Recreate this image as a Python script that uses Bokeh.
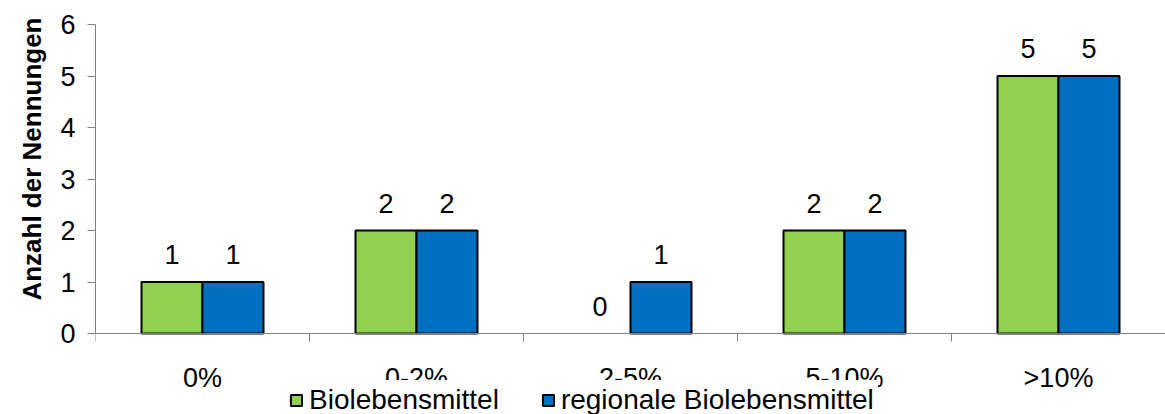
import math
from bokeh.plotting import figure
from bokeh.models import ColumnDataSource, FixedTicker, Legend, LegendItem, Title, Range1d
from bokeh.core.properties import value
from bokeh.embed import file_html
from bokeh.resources import INLINE

categories = ["0%", "0-2%", "2-5%", "5-10%", ">10%"]
bio = [1, 2, 0, 2, 5]
regional = [1, 2, 1, 2, 5]
series_names = ["Biolebensmittel", "regionale Biolebensmittel"]
y_ticks = [0, 1, 2, 3, 4, 5, 6]
y_title = "Anzahl der Nennungen"

GREEN = "#92D050"
BLUE = "#0070C0"
AXIS_GREY = "#808080"
FONT = "Liberation Sans"

n = len(categories)
bw = 0.285
off = 0.1425
centers = [i + 0.5 for i in range(n)]

W, H = 1165, 414
top_b, left_b = 24, 95
px_per_unit = 51.5
frame_h = H - top_b
y_lo = 6 - frame_h / px_per_unit  # extra room below zero for labels and legend

p = figure(width=W, height=H, output_backend="svg", toolbar_location=None,
           x_range=Range1d(0, n), y_range=Range1d(y_lo, 6),
           min_border_left=left_b, min_border_right=0, min_border_top=top_b, min_border_bottom=0)
p.outline_line_color = None
p.xgrid.visible = False
p.ygrid.visible = False
p.background_fill_color = "white"

src_g = ColumnDataSource(dict(x=[c - off for c in centers], top=bio,
                              la=[1 if v > 0 else 0 for v in bio],
                              lab=[str(v) for v in bio]))
src_b = ColumnDataSource(dict(x=[c + off for c in centers], top=regional,
                              la=[1 if v > 0 else 0 for v in regional],
                              lab=[str(v) for v in regional]))

rg = p.vbar(x="x", top="top", width=bw, bottom=0, source=src_g, fill_color=GREEN,
            line_color="black", line_width=2, line_alpha="la")
rb = p.vbar(x="x", top="top", width=bw, bottom=0, source=src_b, fill_color=BLUE,
            line_color="black", line_width=2, line_alpha="la")

for s in (src_g, src_b):
    p.text(x="x", y="top", text="lab", source=s, text_align="center", text_baseline="bottom",
           y_offset=-18, text_font=value(FONT), text_font_size="27px", text_color="black")

# y axis
ya = p.yaxis[0]
ya.ticker = FixedTicker(ticks=y_ticks)
ya.bounds = (0, 6)
ya.major_tick_in = 0
ya.major_tick_out = 8
ya.minor_tick_out = 0
ya.minor_tick_in = 0
ya.axis_line_color = AXIS_GREY
ya.major_tick_line_color = AXIS_GREY
ya.major_label_text_font = FONT
ya.major_label_text_font_size = "27px"
ya.major_label_text_color = "black"
ya.major_label_standoff = 12

# x axis (fixed at zero)
xa = p.xaxis[0]
xa.fixed_location = 0
xa.ticker = FixedTicker(ticks=centers, minor_ticks=list(range(n + 1)))
xa.major_label_overrides = {c: lab for c, lab in zip(centers, categories)}
xa.major_tick_in = 0
xa.major_tick_out = 0
xa.minor_tick_in = 0
xa.minor_tick_out = 8
xa.axis_line_color = AXIS_GREY
xa.minor_tick_line_color = AXIS_GREY
xa.major_label_text_font = FONT
xa.major_label_text_font_size = "27px"
xa.major_label_text_color = "black"
xa.major_label_standoff = 21

p.add_layout(Title(text=y_title, align="right", offset=-7, standoff=22,
                   text_font=FONT, text_font_style="bold", text_font_size="26px",
                   text_color="black"), "left")

legend = Legend(items=[LegendItem(label=series_names[0], renderers=[rg]),
                       LegendItem(label=series_names[1], renderers=[rb])],
                orientation="horizontal", location=(190, -6),
                glyph_width=14, glyph_height=14, label_standoff=6, spacing=42,
                padding=4, margin=0, border_line_alpha=0,
                background_fill_color="white", background_fill_alpha=1,
                label_text_font=FONT, label_text_font_size="28px", label_text_color="black")
p.add_layout(legend, "center")

open("out.html", "w").write(file_html(p, INLINE))
